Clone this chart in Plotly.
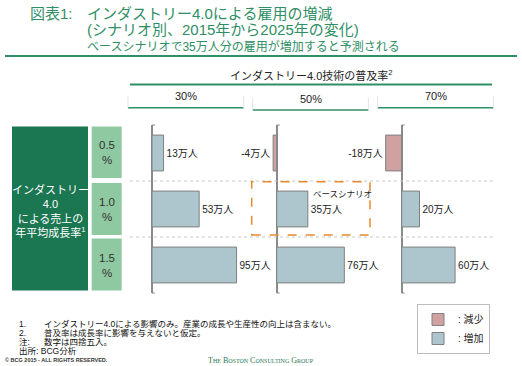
import plotly.graph_objects as go

# ---- data ----
growth_rates = ["0.5%", "1.0%", "1.5%"]          # rows (年平均成長率)
adoption_rates = ["30%", "50%", "70%"]          # panels (普及率)
jobs_30 = [13, 53, 95]
jobs_50 = [-4, 35, 76]
jobs_70 = [-18, 20, 60]
panel_values = [jobs_30, jobs_50, jobs_70]
row_labels = ["0.5<br>%", "1.0<br>%", "1.5<br>%"]

W, H = 522, 366
FONT = "Liberation Sans, Noto Sans CJK JP"
GREEN = "#2f8f66"
DARK_GREEN = "#1b7652"
LIGHT_GREEN = "#8fc9a1"
BLUE = "#adc5cd"
PINK = "#cfa1a1"


def px(x):
    return x / W


def py(y):
    return 1 - y / H


fig = go.Figure()

axis_px = [152, 276.7, 401.7]
xr = [-27, 103]
scale = 0.89  # px per unit
domains = []
for a in axis_px:
    left = a + xr[0] * scale
    right = a + xr[1] * scale
    domains.append([px(left), px(right)])

axes = ["x", "x2", "x3"]
for sign, name, color in [(-1, ": 減少", PINK), (1, ": 増加", BLUE)]:
    legend_done = False
    for i, vals in enumerate(panel_values):
        pts = [(v, g) for v, g in zip(vals, growth_rates) if v * sign > 0]
        if not pts:
            continue
        xs = [p[0] for p in pts]
        ys = [p[1] for p in pts]
        fig.add_trace(go.Bar(
            x=xs, y=ys, orientation="h",
            xaxis=axes[i], yaxis="y",
            marker=dict(color=color, line=dict(color="#808080", width=1)),
            width=0.64,
            text=[f"{v}万人" for v in xs], textposition="outside",
            constraintext="none", cliponaxis=False,
            textfont=dict(family=FONT, size=10, color="#222"),
            name=name, legendgroup=name, showlegend=not legend_done,
            hoverinfo="skip",
        ))
        legend_done = True

layout_axes = {}
for i, key in enumerate(["xaxis", "xaxis2", "xaxis3"]):
    layout_axes[key] = dict(
        domain=domains[i], range=xr, anchor="y",
        showticklabels=False, showgrid=False, ticks="",
        zeroline=True, zerolinecolor="#8a8a8a", zerolinewidth=1.5,
        fixedrange=True,
    )

fig.update_layout(
    width=W, height=H,
    margin=dict(l=0, r=0, t=0, b=0),
    paper_bgcolor="white", plot_bgcolor="rgba(0,0,0,0)",
    barmode="relative",
    showlegend=True,
    legend=dict(
        x=px(417), y=py(304), xanchor="left", yanchor="top",
        bordercolor="#bdbdbd", borderwidth=1, bgcolor="white",
        font=dict(family=FONT, size=10, color="#222"),
        itemwidth=30, tracegroupgap=0, itemclick=False, traceorder="normal",
    ),
    yaxis=dict(
        domain=[py(293), py(125)], anchor="x",
        categoryorder="array", categoryarray=growth_rates,
        range=[2.5, -0.5], visible=False, fixedrange=True,
    ),
    **layout_axes,
)

shapes = []
anns = []


def ann(text, x, y, size, color="#222", xanchor="center", family=FONT, **kw):
    d = dict(text=text, x=px(x), y=py(y), xref="paper", yref="paper",
             xanchor=xanchor, yanchor="middle", showarrow=False,
             font=dict(family=family, size=size, color=color))
    d.update(kw)
    anns.append(d)


# title
shapes.append(dict(type="line", xref="paper", yref="paper",
                   x0=px(5), x1=px(517), y0=py(56), y1=py(56),
                   line=dict(color=GREEN, width=2)))
ann("図表1:", 28, 13, 15, GREEN, "left")
ann("インダストリー4.0による雇用の増減", 85, 13, 15, GREEN, "left")
ann("(シナリオ別、2015年から2025年の変化)", 85, 30, 15, GREEN, "left")
ann("ベースシナリオで35万人分の雇用が増加すると予測される", 85, 46, 12, GREEN, "left")

# header
ann("インダストリー4.0技術の普及率<sup>2</sup>", 311, 75, 11)
shapes.append(dict(type="line", xref="paper", yref="paper",
                   x0=px(130), x1=px(492), y0=py(84.5), y1=py(84.5),
                   line=dict(color=GREEN, width=2)))
col_y = [96, 98.5, 96]
line_y = [107.7, 110, 107.7]
for i, lab in enumerate(adoption_rates):
    x0, x1 = domains[i][0] * W, domains[i][1] * W
    ann(lab, (x0 + x1) / 2, col_y[i], 11)
    shapes.append(dict(type="line", xref="paper", yref="paper",
                       x0=px(x0), x1=px(x1), y0=py(line_y[i]), y1=py(line_y[i]),
                       line=dict(color=GREEN, width=1.5)))
    for xe in (x0, x1):
        shapes.append(dict(type="line", xref="paper", yref="paper",
                           x0=px(xe), x1=px(xe), y0=py(line_y[i] - 12), y1=py(line_y[i]),
                           line=dict(color="#e4e4e4", width=1)))
    a = axis_px[i]
    for yy in (125, 293):
        shapes.append(dict(type="line", xref="paper", yref="paper",
                           x0=px(a), x1=px(a + 3), y0=py(yy), y1=py(yy),
                           line=dict(color="#8a8a8a", width=1)))

# row dividers
for yv in (0.5, 1.5):
    shapes.append(dict(type="line", xref="paper", yref="y",
                       x0=px(130), x1=px(494), y0=yv, y1=yv,
                       line=dict(color="#c8c8c8", width=1, dash="dot")))

# left boxes
shapes.append(dict(type="rect", xref="paper", yref="paper",
                   x0=px(12), x1=px(88), y0=py(290.5), y1=py(126.5),
                   fillcolor=DARK_GREEN, line=dict(width=0), layer="below"))
ann("インダストリー<br>4.0<br>による売上の<br>年平均成長率<sup>1</sup>", 50, 211, 11,
    "white", align="center")
row_box = [(126.5, 178), (183, 235), (238.5, 290.5)]
for (t, b), lab in zip(row_box, row_labels):
    shapes.append(dict(type="rect", xref="paper", yref="paper",
                       x0=px(91.7), x1=px(121.7), y0=py(b), y1=py(t),
                       fillcolor=LIGHT_GREEN, line=dict(width=0), layer="below"))
    ann(lab, 106.7, (t + b) / 2 + 0.5, 11.5, "#333", align="center")

# base scenario box
shapes.append(dict(type="rect", xref="paper", yref="paper",
                   x0=px(251.7), x1=px(370), y0=py(235), y1=py(181.7),
                   line=dict(color="#e98a2c", width=1.5, dash="dash")))
ann("ベースシナリオ", 311, 194, 8.5, xanchor="left")

# footnotes
notes = [("1.", "インダストリー4.0による影響のみ。産業の成長や生産性の向上は含まない。", 324),
         ("2.", "普及率は成長率に影響を与えないと仮定。", 333),
         ("注:", "数字は四捨五入。", 341.7)]
for k, txt, yy in notes:
    ann(k, 16.7, yy, 8.5, "#111", "left")
    ann(txt, 41.7, yy, 8.5, "#111", "left")
ann("出所: BCG分析", 16.7, 351, 8.5, "#111", "left")
ann("<b>© BCG 2015 - ALL RIGHTS RESERVED.</b>", 3, 360, 5.5, "#333", "left",
    family="Liberation Sans")
anns.append(dict(text="The Boston Consulting Group", x=px(261), y=py(360),
                 xref="paper", yref="paper", xanchor="center", yanchor="middle",
                 showarrow=False,
                 font=dict(family="Liberation Serif", size=8, color="#2a7a55",
                           variant="small-caps")))

fig.update_layout(shapes=shapes, annotations=anns)
fig.write_html("out.html", config={"displayModeBar": False},
               post_script="document.body.style.margin='0';document.body.style.padding='0';")
